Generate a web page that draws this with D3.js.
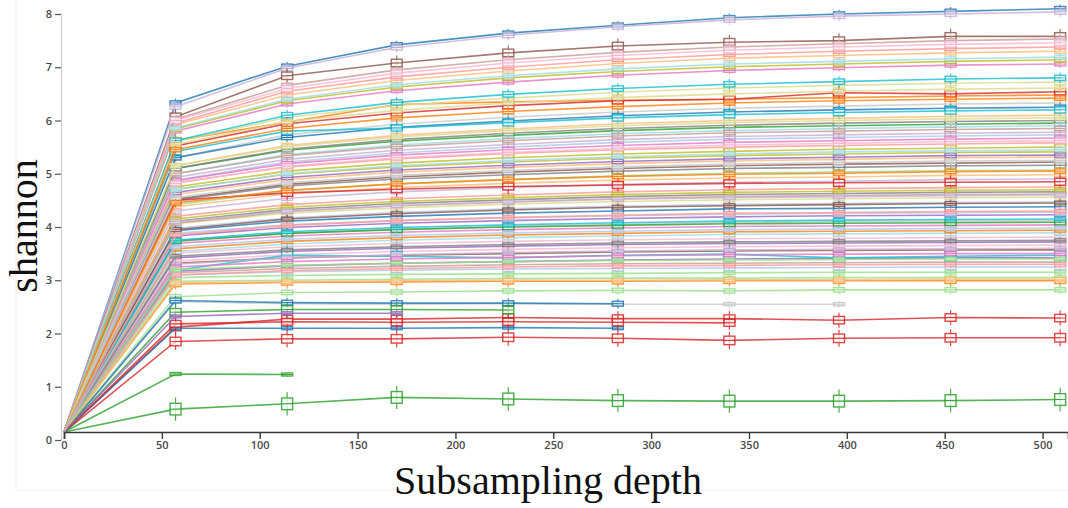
<!DOCTYPE html>
<html>
<head>
<meta charset="utf-8">
<script src="https://cdn.jsdelivr.net/npm/d3@7"></script>
<style>
  html, body { margin: 0; padding: 0; background: #fff; }
  svg { display: block; }
  .tick text { font-family: "Open Sans", "Noto Sans", sans-serif; font-weight: 600; font-size: 11px; fill: #4a4a4a; }
  .title { font-family: "Liberation Serif", "Times New Roman", serif; font-size: 40px; fill: #111; }
</style>
</head>
<body>
<svg id="chart" width="1068" height="508"></svg>
<script>
// Rarefaction depths (sequences per sample)
const depths = [0, 57, 114, 170, 227, 283, 340, 396, 453, 509];

// Mean Shannon index per sample at each depth (null = depth beyond sample size)
const shannon = [
  [0.15, 6.33, 7.02, 7.42, 7.64, 7.79, 7.93, 8.00, 8.05, 8.10],
  [0.15, 4.88, 5.22, 5.39, 5.50, 5.59, 5.65, 5.68, 5.71, 5.73],
  [0.15, 5.62, 5.97, 6.30, 6.35, 6.38, 6.40, 6.43, 6.46, 6.48],
  [0.15, 5.92, 6.48, 6.75, 6.93, 7.07, 7.17, 7.22, 7.27, 7.30],
  [0.15, 0.58, 0.68, 0.80, 0.77, 0.74, 0.73, 0.73, 0.74, 0.76],
  [0.15, 3.05, 3.09, 3.11, 3.12, 3.13, 3.14, 3.15, 3.15, 3.15],
  [0.15, 1.85, 1.90, 1.90, 1.93, 1.91, 1.87, 1.91, 1.92, 1.92],
  [0.15, 5.95, 6.55, 6.82, 7.00, 7.14, 7.24, 7.30, 7.35, 7.38],
  [0.15, 3.83, 3.99, 4.07, 4.12, 4.16, 4.19, 4.21, 4.22, 4.23],
  [0.15, 6.26, 6.98, 7.37, 7.60, 7.76, 7.89, 7.96, 8.00, 8.04],
  [0.15, 6.07, 6.84, 7.08, 7.27, 7.40, 7.47, 7.50, 7.58, 7.58],
  [0.15, 6.02, 6.66, 6.95, 7.14, 7.28, 7.38, 7.44, 7.50, 7.53],
  [0.15, 5.80, 6.31, 6.56, 6.72, 6.85, 6.94, 6.99, 7.04, 7.06],
  [0.15, 6.00, 6.60, 6.89, 7.08, 7.22, 7.32, 7.38, 7.43, 7.46],
  [0.15, 4.11, 4.33, 4.44, 4.51, 4.57, 4.61, 4.63, 4.65, 4.66],
  [0.15, 5.30, 5.73, 5.93, 6.06, 6.16, 6.23, 6.27, 6.31, 6.33],
  [0.15, 5.84, 6.37, 6.63, 6.80, 6.92, 7.01, 7.06, 7.11, 7.14],
  [0.15, 5.60, 6.06, 6.28, 6.42, 6.53, 6.61, 6.66, 6.70, 6.72],
  [0.15, 5.62, 6.10, 6.34, 6.49, 6.60, 6.68, 6.73, 6.78, 6.80],
  [0.15, 5.86, 6.40, 6.67, 6.84, 6.97, 7.06, 7.11, 7.16, 7.19],
  [0.15, 5.30, 5.68, 5.87, 5.99, 6.09, 6.16, 6.20, 6.23, 6.25],
  [0.15, 3.97, 4.17, 4.27, 4.34, 4.39, 4.42, 4.44, 4.46, 4.47],
  [0.15, 2.93, 2.96, 2.97, 2.98, 2.98, 2.99, 2.99, 2.99, 2.99],
  [0.15, 5.15, 5.53, 5.72, 5.84, 5.94, 6.00, 6.04, 6.08, 6.10],
  [0.15, 1.24, 1.23, null, null, null, null, null, null, null],
  [0.15, 2.69, 2.77, 2.78, 2.80, 2.81, 2.80, 2.82, 2.82, 2.82],
  [0.15, 2.12, 2.27, 2.27, 2.30, 2.28, 2.28, 2.25, 2.30, 2.29],
  [0.15, 4.83, 5.13, 5.28, 5.38, 5.45, 5.50, 5.53, 5.56, 5.58],
  [0.15, 3.42, 3.54, 3.60, 3.64, 3.67, 3.69, 3.70, 3.71, 3.72],
  [0.15, 4.93, 5.27, 5.44, 5.55, 5.64, 5.70, 5.73, 5.76, 5.78],
  [0.15, 4.52, 4.80, 4.94, 5.03, 5.10, 5.15, 5.18, 5.20, 5.22],
  [0.15, 3.14, 3.22, 3.26, 3.29, 3.31, 3.32, 3.33, 3.34, 3.34],
  [0.15, 4.87, 5.19, 5.35, 5.45, 5.53, 5.59, 5.62, 5.65, 5.67],
  [0.15, 3.51, 3.63, 3.69, 3.73, 3.76, 3.78, 3.79, 3.80, 3.81],
  [0.15, 4.51, 4.77, 4.90, 4.98, 5.05, 5.10, 5.12, 5.15, 5.16],
  [0.15, 2.60, 2.56, 2.55, 2.56, 2.55, 2.55, 2.55, null, null],
  [0.15, 4.71, 4.99, 5.13, 5.22, 5.29, 5.34, 5.37, 5.40, 5.41],
  [0.15, 4.06, 4.26, 4.36, 4.43, 4.48, 4.51, 4.53, 4.55, 4.56],
  [0.15, 5.42, 5.80, 5.86, 5.96, 6.05, 6.11, 6.15, 6.18, 6.20],
  [0.15, 3.54, 3.68, 3.75, 3.80, 3.83, 3.86, 3.87, 3.88, 3.89],
  [0.15, 3.93, 4.11, 4.20, 4.26, 4.30, 4.34, 4.35, 4.37, 4.38],
  [0.15, 3.88, 4.04, 4.12, 4.17, 4.21, 4.24, 4.26, 4.27, 4.28],
  [0.15, 3.59, 3.73, 3.80, 3.85, 3.88, 3.91, 3.92, 3.93, 3.94],
  [0.15, 4.61, 4.89, 5.03, 5.12, 5.19, 5.24, 5.27, 5.30, 5.31],
  [0.15, 5.10, 5.44, 5.61, 5.72, 5.81, 5.87, 5.90, 5.93, 5.95],
  [0.15, 4.42, 4.68, 4.81, 4.89, 4.96, 5.01, 5.03, 5.06, 5.07],
  [0.15, 5.52, 5.94, 6.14, 6.28, 6.37, 6.40, 6.52, 6.50, 6.54],
  [0.15, 4.20, 4.42, 4.53, 4.60, 4.66, 4.70, 4.72, 4.74, 4.75],
  [0.15, 3.17, 3.27, 3.32, 3.35, 3.38, 3.40, 3.41, 3.42, 3.42],
  [0.15, 4.30, 4.54, 4.66, 4.74, 4.80, 4.84, 4.86, 4.89, 4.90],
  [0.15, 3.32, 3.42, 3.47, 3.50, 3.53, 3.55, 3.56, 3.57, 3.57],
  [0.15, 4.07, 4.29, 4.40, 4.47, 4.53, 4.57, 4.59, 4.61, 4.62],
  [0.15, 3.69, 3.83, 3.90, 3.95, 3.98, 4.01, 4.02, 4.03, 4.04],
  [0.15, 3.36, 3.48, 3.54, 3.58, 3.61, 3.63, 3.64, 3.65, 3.66],
  [0.15, 5.10, 5.46, 5.64, 5.76, 5.85, 5.91, 5.95, 5.98, 6.00],
  [0.15, 3.72, 3.88, 3.96, 4.01, 4.05, 4.08, 4.10, 4.11, 4.12],
  [0.15, 4.75, 5.05, 5.20, 5.30, 5.37, 5.42, 5.46, 5.48, 5.50],
  [0.15, 5.55, 5.98, 6.19, 6.33, 6.43, 6.50, 6.55, 6.59, 6.61],
  [0.15, 3.19, 3.47, 3.45, 3.42, 3.47, 3.49, 3.42, 3.45, 3.47],
  [0.15, 5.00, 5.36, 5.54, 5.66, 5.75, 5.81, 5.85, 5.88, 5.90],
  [0.15, 2.10, 2.10, 2.10, 2.11, 2.10, null, null, null, null],
  [0.15, 3.10, 3.16, 3.19, 3.21, 3.22, 3.23, 3.24, 3.25, 3.25],
  [0.15, 5.45, 5.85, 6.05, 6.17, 6.26, 6.33, 6.37, 6.40, 6.42],
  [0.15, 4.38, 4.62, 4.74, 4.82, 4.88, 4.92, 4.94, 4.97, 4.98],
  [0.15, 3.74, 3.88, 3.95, 4.00, 4.03, 4.06, 4.07, 4.08, 4.09],
  [0.15, 2.98, 3.00, 3.02, 3.03, 3.04, 3.04, 3.05, 3.05, 3.05],
  [0.15, 4.50, 4.64, 4.71, 4.76, 4.79, 4.82, 4.83, 4.84, 4.85],
  [0.15, 3.10, 3.18, 3.22, 3.25, 3.27, 3.28, 3.29, 3.30, 3.30],
  [0.15, 4.65, 4.93, 5.07, 5.16, 5.23, 5.28, 5.31, 5.34, 5.35],
  [0.15, 3.30, 3.42, 3.48, 3.52, 3.55, 3.57, 3.58, 3.59, 3.60],
  [0.15, 3.95, 4.15, 4.25, 4.32, 4.37, 4.40, 4.42, 4.44, 4.45],
  [0.15, 5.00, 5.34, 5.51, 5.62, 5.71, 5.77, 5.80, 5.83, 5.85],
  [0.15, 3.25, 3.35, 3.40, 3.43, 3.46, 3.48, 3.49, 3.50, 3.50],
  [0.15, 4.82, 5.14, 5.30, 5.40, 5.48, 5.54, 5.57, 5.60, 5.62],
  [0.15, 3.45, 3.57, 3.63, 3.67, 3.70, 3.72, 3.73, 3.74, 3.75],
  [0.15, 4.55, 4.83, 4.97, 5.06, 5.13, 5.18, 5.21, 5.24, 5.25],
  [0.15, 4.15, 4.37, 4.48, 4.55, 4.61, 4.65, 4.67, 4.69, 4.70],
  [0.15, 5.15, 5.51, 5.69, 5.81, 5.90, 5.96, 6.00, 6.03, 6.05],
  [0.15, 3.75, 3.91, 3.99, 4.04, 4.08, 4.11, 4.13, 4.14, 4.15],
  [0.15, 4.70, 5.00, 5.15, 5.25, 5.32, 5.37, 5.41, 5.43, 5.45],
  [0.15, 2.62, 2.58, 2.57, 2.57, 2.56, null, null, null, null],
  [0.15, 3.63, 3.77, 3.84, 3.89, 3.92, 3.95, 3.96, 3.97, 3.98],
  [0.15, 4.45, 4.69, 4.81, 4.89, 4.95, 4.99, 5.01, 5.04, 5.05],
  [0.15, 2.95, 2.97, 2.99, 3.00, 3.00, 3.01, 3.01, 3.02, 3.02],
  [0.15, 2.40, 2.45, 2.45, 2.44, null, null, null, null, null],
  [0.15, 3.20, 3.28, 3.32, 3.35, 3.37, 3.38, 3.39, 3.40, 3.40],
  [0.15, 2.18, 2.22, 2.21, 2.22, 2.21, 2.20, null, null, null],
  [0.15, 3.85, 4.03, 4.12, 4.18, 4.22, 4.26, 4.27, 4.29, 4.30],
  [0.15, 2.32, 2.38, 2.38, null, null, null, null, null, null],
  [0.15, 4.10, 4.30, 4.40, 4.47, 4.52, 4.55, 4.57, 4.59, 4.60]
];

// Interquartile spread of Shannon across rarefaction iterations, per sample
const spread = [
  0.08, 0.10, 0.12, 0.08, 0.22, 0.06, 0.16, 0.07, 0.06, 0.09,
  0.14, 0.08, 0.07, 0.12, 0.06, 0.10, 0.08, 0.09, 0.10, 0.07,
  0.08, 0.06, 0.10, 0.08, 0.04, 0.08, 0.14, 0.09, 0.07, 0.08,
  0.13, 0.06, 0.08, 0.07, 0.10, 0.06, 0.07, 0.06, 0.12, 0.08,
  0.12, 0.10, 0.07, 0.08, 0.09, 0.07, 0.12, 0.06, 0.07, 0.08,
  0.06, 0.07, 0.08, 0.06, 0.10, 0.08, 0.12, 0.07, 0.18, 0.08,
  0.05, 0.09, 0.08, 0.07, 0.10, 0.06, 0.13, 0.07, 0.08, 0.06,
  0.07, 0.08, 0.07, 0.09, 0.06, 0.08, 0.07, 0.08, 0.06, 0.07,
  0.09, 0.06, 0.08, 0.07, 0.14, 0.06, 0.13, 0.06, 0.05, 0.07
];

// Axis tick values
const xTicks = [0, 50, 100, 150, 200, 250, 300, 350, 400, 450, 500];
const yTicks = [0, 1, 2, 3, 4, 5, 6, 7, 8];

const palette = ["#1f77b4", "#aec7e8", "#ff7f0e", "#ffbb78", "#2ca02c", "#98df8a",
  "#d62728", "#ff9896", "#9467bd", "#c5b0d5", "#8c564b", "#c49c94", "#e377c2",
  "#f7b6d2", "#7f7f7f", "#c7c7c7", "#bcbd22", "#dbdb8d", "#17becf", "#9edae5"];

const svg = d3.select("#chart");

// faint page frame
svg.append("line").attr("x1", 16).attr("x2", 16).attr("y1", 0).attr("y2", 490)
  .attr("stroke", "#eeeeee").attr("stroke-width", 1);
svg.append("line").attr("x1", 16).attr("x2", 1068).attr("y1", 490).attr("y2", 490)
  .attr("stroke", "#f3f3f3").attr("stroke-width", 1);

const x = d3.scaleLinear().domain([0, 513]).range([64, 1068]);
const y = d3.scaleLinear().domain([0, 8]).range([440, 14]);
const color = i => palette[i % palette.length];

const series = shannon.map((vals, i) => ({
  id: i,
  points: depths.map((d, j) => ({ depth: d, value: vals[j] }))
}));

const baseline = d3.min(shannon, r => r[0]);

// y axis
const yAxis = svg.append("g")
  .attr("transform", `translate(61,0)`)
  .call(d3.axisLeft(y).tickValues(yTicks).tickFormat(d3.format("d")).tickSize(6).tickPadding(3));
yAxis.select(".domain").attr("stroke", "#c8c8c8").attr("stroke-width", 1);
yAxis.selectAll(".tick line").attr("stroke", "#555").attr("stroke-width", 1.2);

// rarefaction curves
const line = d3.line()
  .defined(p => p.value != null)
  .x(p => x(p.depth))
  .y(p => y(p.value));

const gSeries = svg.append("g");
series.forEach(s => {
  const g = gSeries.append("g");
  g.append("path")
    .datum(s.points)
    .attr("d", line)
    .attr("fill", "none")
    .attr("stroke", color(s.id))
    .attr("stroke-width", 1.6)
    .attr("stroke-opacity", 0.8);

  const pts = s.points.filter(p => p.value != null && p.depth > 0);
  const sp = spread[s.id];
  const boxes = g.selectAll("g.box").data(pts).join("g").attr("class", "box")
    .attr("opacity", 0.85);
  boxes.append("line")
    .attr("x1", p => x(p.depth)).attr("x2", p => x(p.depth))
    .attr("y1", p => y(p.value - sp)).attr("y2", p => y(p.value + sp))
    .attr("stroke", color(s.id)).attr("stroke-width", 1.2);
  boxes.append("rect")
    .attr("x", p => x(p.depth) - 5.5)
    .attr("width", 11)
    .attr("y", p => Math.min(y(p.value + sp / 2), y(p.value) - 1.5))
    .attr("height", p => Math.max(y(p.value - sp / 2) - y(p.value + sp / 2), 3))
    .attr("fill", "#ffffff").attr("fill-opacity", 0.75)
    .attr("stroke", color(s.id)).attr("stroke-width", 1.4);
  boxes.append("line")
    .attr("x1", p => x(p.depth) - 5.5).attr("x2", p => x(p.depth) + 5.5)
    .attr("y1", p => y(p.value)).attr("y2", p => y(p.value))
    .attr("stroke", color(s.id)).attr("stroke-width", 1);
});

// x axis along the rarefaction baseline
const xAxis = svg.append("g")
  .attr("transform", `translate(0,${y(baseline)})`)
  .call(d3.axisBottom(x).tickValues(xTicks).tickFormat(d3.format("d")).tickSize(7).tickPadding(2));
xAxis.select(".domain").attr("stroke", "#3a3a3a").attr("stroke-width", 1.6);
xAxis.selectAll(".tick line").attr("stroke", "#3a3a3a").attr("stroke-width", 1.4);

// axis titles
svg.append("text").attr("class", "title")
  .attr("x", 548).attr("y", 494).attr("text-anchor", "middle")
  .text("Subsampling depth");
svg.append("text").attr("class", "title")
  .attr("transform", "translate(37,226) rotate(-90)")
  .attr("text-anchor", "middle")
  .text("shannon");
</script>
</body>
</html>
